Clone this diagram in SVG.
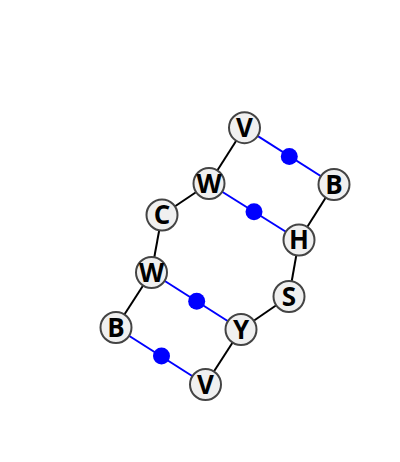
<svg xmlns="http://www.w3.org/2000/svg" width="400" height="462" viewBox="0 0 400 462">
<style>
.e{stroke:#000;stroke-width:2;fill:none}
.b{stroke:#0000ff;stroke-width:2;fill:none}
.d{fill:#0000ff}
.n circle{fill:#f0f0f0;stroke:#444;stroke-width:2}
.n text{font-family:"Open Sans",sans-serif;font-weight:bold;font-size:26px;text-anchor:middle;fill:#000}
</style>
<rect width="400" height="462" fill="#fff"/>
<g id="connectors">
<line class="e" x1="244.5" y1="127.7" x2="209" y2="183.5"/>
<line class="b" x1="244.5" y1="127.7" x2="334" y2="184.5"/>
<circle class="d" cx="289.3" cy="156.5" r="8.5"/>
<line class="e" x1="209" y1="183.5" x2="162" y2="215"/>
<line class="b" x1="209" y1="183.5" x2="299" y2="240"/>
<circle class="d" cx="254" cy="211.7" r="8.5"/>
<line class="e" x1="334" y1="184.5" x2="299" y2="240"/>
<line class="e" x1="299" y1="240" x2="289" y2="296.5"/>
<line class="e" x1="162" y1="215" x2="151.5" y2="272.5"/>
<line class="e" x1="289" y1="296.5" x2="241" y2="329.5"/>
<line class="b" x1="151.5" y1="272.5" x2="241" y2="329.5"/>
<circle class="d" cx="196.7" cy="301.2" r="8.5"/>
<line class="e" x1="151.5" y1="272.5" x2="116" y2="327.5"/>
<line class="b" x1="116" y1="327.5" x2="205.5" y2="384.5"/>
<circle class="d" cx="161.5" cy="356" r="8.5"/>
<line class="e" x1="241" y1="329.5" x2="205.5" y2="384.5"/>
</g>
<g id="n1" class="n"><circle cx="244.5" cy="127.7" r="15.5"/><text x="244.5" y="137">V</text></g>
<g id="n2" class="n"><circle cx="334" cy="184.5" r="15.5"/><text x="334" y="193.8">B</text></g>
<g id="n3" class="n"><circle cx="209" cy="183.5" r="15.5"/><text x="209" y="192.8">W</text></g>
<g id="n4" class="n"><circle cx="299" cy="240" r="15.5"/><text x="299" y="249.3">H</text></g>
<g id="n5" class="n"><circle cx="162" cy="215" r="15.5"/><text x="162" y="224.3">C</text></g>
<g id="n6" class="n"><circle cx="289" cy="296.5" r="15.5"/><text x="289" y="305.8">S</text></g>
<g id="n7" class="n"><circle cx="151.5" cy="272.5" r="15.5"/><text x="151.5" y="281.8">W</text></g>
<g id="n8" class="n"><circle cx="241" cy="329.5" r="15.5"/><text x="241" y="338.8">Y</text></g>
<g id="n9" class="n"><circle cx="116" cy="327.5" r="15.5"/><text x="116" y="336.8">B</text></g>
<g id="n10" class="n"><circle cx="205.5" cy="384.5" r="15.5"/><text x="205.5" y="393.8">V</text></g>
</svg>
